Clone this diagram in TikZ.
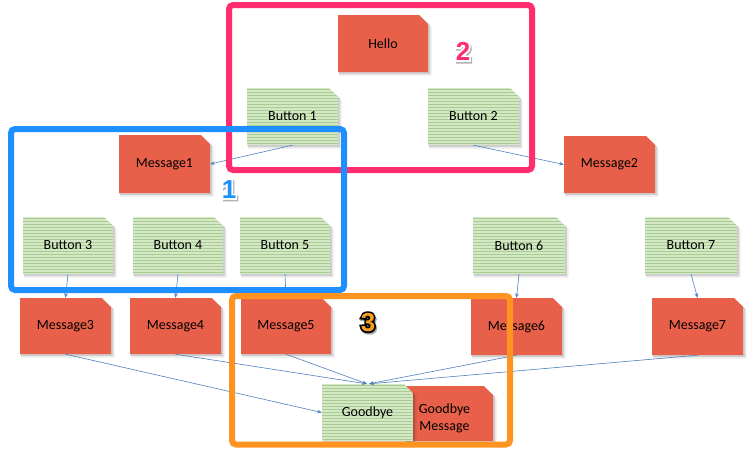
\documentclass[tikz,border=0pt]{standalone}
\usepackage{fontspec}
\setmainfont{Carlito}
\newfontface\digitfont{Liberation Sans Bold}
\newfontface\digitstroke{Liberation Sans Bold}[FakeBold=13]
\usetikzlibrary{arrows.meta,calc}
\definecolor{cardred}{RGB}{232,96,74}
\definecolor{cardgreen}{RGB}{212,232,198}
\definecolor{stripe}{RGB}{168,205,146}
\definecolor{linkcol}{RGB}{79,129,189}
\definecolor{framepink}{RGB}{255,45,110}
\definecolor{frameblue}{RGB}{30,143,255}
\definecolor{frameorange}{RGB}{255,147,32}
\definecolor{digitorange}{RGB}{247,160,30}
\tikzset{
  cardtext/.style={inner sep=0pt, font=\fontsize{14}{17}\selectfont, text=black, align=center},
  link/.style={draw=linkcol, line width=0.6pt, -{Stealth[length=4.5pt,width=3.6pt]}},
  frame/.style={line width=6pt, rounded corners=4pt},
  numlabel/.style={inner sep=0pt, font=\fontsize{26}{26}\selectfont},
}
\newcommand\cardshadow[4]{%
  \fill[black,opacity=.08] ({#1+1},{#2+3.5}) -- ({#3-6},{#2+3.5}) -- ({#3+3.5},{#2+12}) -- ({#3+3.5},{#4+3.5}) -- ({#1+1},{#4+3.5}) -- cycle;
  \fill[black,opacity=.12] ({#1+0.5},{#2+1.8}) -- ({#3-8},{#2+1.8}) -- ({#3+1.8},{#2+10}) -- ({#3+1.8},{#4+1.8}) -- ({#1+0.5},{#4+1.8}) -- cycle;
}
\newcommand\redcard[7][]{%
  \cardshadow{#3}{#4}{#5}{#6}%
  \fill[cardred] (#3,#4) -- ({#5-9},#4) -- (#5,{#4+9}) -- (#5,#6) -- (#3,#6) -- cycle;
  \node[cardtext, minimum width={(#5-#3)*1pt}, minimum height={(#6-#4)*1pt}, #1] (#2) at ({(#3+#5)/2},{(#4+#6)/2}) {#7};
}
\newcommand\greencard[7][]{%
  \cardshadow{#3}{#4}{#5}{#6}%
  \begin{scope}
    \clip (#3,#4) -- ({#5-9},#4) -- (#5,{#4+9}) -- (#5,#6) -- (#3,#6) -- cycle;
    \fill[cardgreen] (#3,#4) rectangle (#5,#6);
    \foreach \k in {0,...,19} \draw[stripe, line width=.7pt] (#3,{#4+1.5+3*\k}) -- (#5,{#4+1.5+3*\k});
  \end{scope}
  \node[cardtext, minimum width={(#5-#3)*1pt}, minimum height={(#6-#4)*1pt}, #1] (#2) at ({(#3+#5)/2},{(#4+#6)/2}) {#7};
}
% #1 shadow colour, #2 outline colour, #3 fill colour, #4 digit
\newcommand\outlined[4]{%
  \leavevmode
  \rlap{\hspace*{1.2pt}\raisebox{-1.6pt}{\digitstroke\textcolor{#1}{#4}}}%
  \rlap{\digitstroke\textcolor{#2}{#4}}%
  {\digitfont\textcolor{#3}{#4}}}
\begin{document}
\begin{tikzpicture}[x=1pt,y=-1pt]
\useasboundingbox (0,0) rectangle (755,448);
\fill[white] (0,0) rectangle (755,448);

% cards
\redcard{hello}{338}{15}{428}{72}{Hello}
\greencard{b1}{247}{88}{338}{145}{Button 1}
\greencard{b2}{428}{88}{519}{145}{Button 2}
\redcard{m1}{119}{135}{210}{193}{Message1}
\redcard{m2}{564}{136}{655}{193}{Message2}
\greencard{b3}{23}{217}{113}{274}{Button 3}
\greencard{b4}{133}{217}{223}{274}{Button 4}
\greencard{b5}{240}{217}{330}{274}{Button 5}
\greencard{b6}{473}{217}{565}{274}{Button 6}
\greencard{b7}{645}{217}{737}{274}{Button 7}
\redcard{m3}{20}{298}{111}{354}{Message3}
\redcard{m4}{130}{298}{221}{354}{Message4}
\redcard{m5}{241}{298}{331}{354}{Message5}
\redcard{m6}{471}{298}{562}{355}{Message6}
\redcard{m7}{652}{298}{743}{355}{Message7}
\redcard[xshift=-4.5pt,yshift=-4.5pt]{gbm}{405}{386}{493}{441}{Goodbye\\Message}
\greencard{gb}{322}{384}{413}{441}{Goodbye}

% connectors
\draw[link] (b1.south) -- (m1.east);
\draw[link] (b2.south) -- (m2.west);
\draw[link] (b3.south) -- (m3.north);
\draw[link] (b4.south) -- (m4.north);
\draw[link] (b5.south) -- (m5.north);
\draw[link] (b6.south) -- (m6.north);
\draw[link] (b7.south) -- (m7.north);
\draw[link] (m3.south) -- (gb.west);
\draw[link] (m4.south) -- ([xshift=-1pt]gb.north);
\draw[link] (m5.south) -- ([xshift=-0.5pt]gb.north);
\draw[link] (m6.south) -- ([xshift=1.5pt]gb.north);
\draw[link] (m7.south) -- ([xshift=2pt]gb.north);

% frames
\draw[frame, framepink] (229,5) rectangle (532,170);
\draw[frame, frameblue] (11,129) rectangle (344,290);
\draw[frame, frameorange] (232,296) rectangle (510,444.5);

% numbers
\node[numlabel] (n2) at (463,52) {\outlined{black!30}{white}{framepink}{2}};
\node[numlabel] (n1) at (229,190) {\outlined{black!30}{white}{frameblue}{1}};
\node[numlabel] (n3) at (368,323) {\outlined{black!35}{black}{digitorange}{3}};
\end{tikzpicture}
\end{document}
